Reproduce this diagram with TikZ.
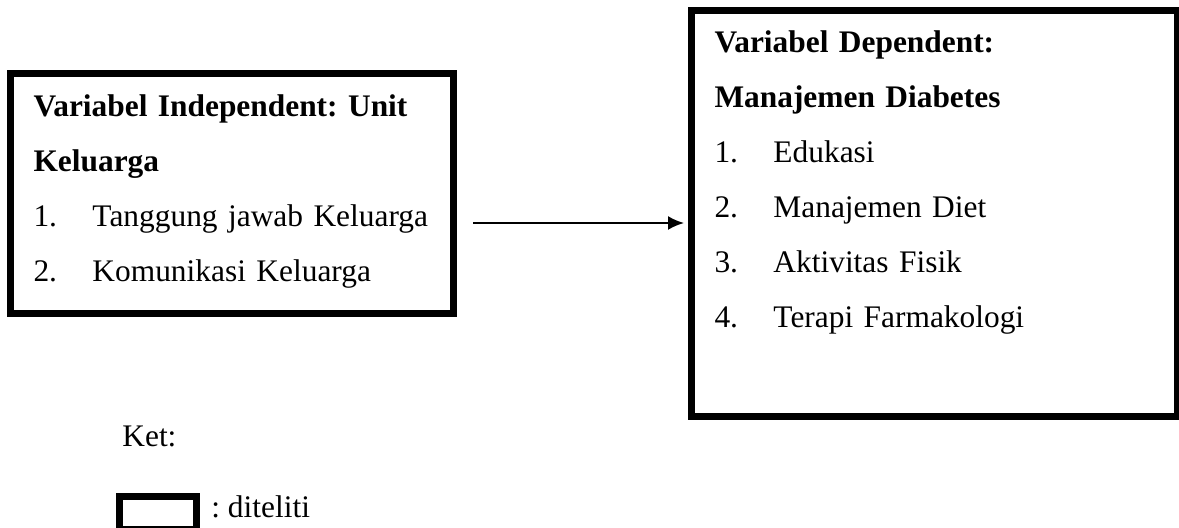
\documentclass[tikz,border=0pt]{standalone}
\usepackage{fontspec}
\setmainfont{Liberation Serif}
\usetikzlibrary{arrows.meta, positioning}
\tikzset{>={Latex[width=7pt,length=8pt]}}
\frenchspacing

\tikzset{
	varbox/.style = {draw, line width=3.5pt, anchor=north west, inner xsep=11.5pt,
		inner ysep=0pt, align=left, font=\fontsize{15.7}{27.5}\selectfont},
	teks/.style = {inner sep=0pt, anchor=base west, font=\fontsize{15.7}{27.5}\selectfont},
}
\newcommand{\nomor}[1]{\makebox[29.5pt][l]{#1}}

\begin{document}
\begin{tikzpicture}[x=0.5pt, y=-0.5pt]
		\useasboundingbox (0,0) rectangle (1179,528);
		% variabel independent
		\node (indep) [varbox, text width=198.5pt, text height=21.75pt, text depth=98.25pt]
		at (7,70) {\textbf{Variabel Independent: Unit}\\
			\textbf{Keluarga}\\
			\nomor{1.}Tanggung jawab Keluarga\\
			\nomor{2.}Komunikasi Keluarga};
		% variabel dependent
		\node (dep) [varbox, text width=219.75pt, text height=21.25pt, text depth=181.75pt]
		at (688,7) {\textbf{Variabel Dependent:}\\
			\textbf{Manajemen Diabetes}\\
			\nomor{1.}Edukasi\\
			\nomor{2.}Manajemen Diet\\
			\nomor{3.}Aktivitas Fisik\\
			\nomor{4.}Terapi Farmakologi};
		\coordinate (awal) at (473,223);
		\draw[->, line width=1pt, shorten >=2pt] (awal) -- (awal -| dep.west);
		% keterangan
		\node (ket) [teks] at (122,447) {Ket:};
		\node (legbox) [draw, line width=3.5pt, minimum width=38.5pt, minimum height=16.5pt,
		inner sep=0pt] at (158,513) {};
		\node (diteliti) [teks] at (211,518) {: diteliti};
\end{tikzpicture}
\end{document}
